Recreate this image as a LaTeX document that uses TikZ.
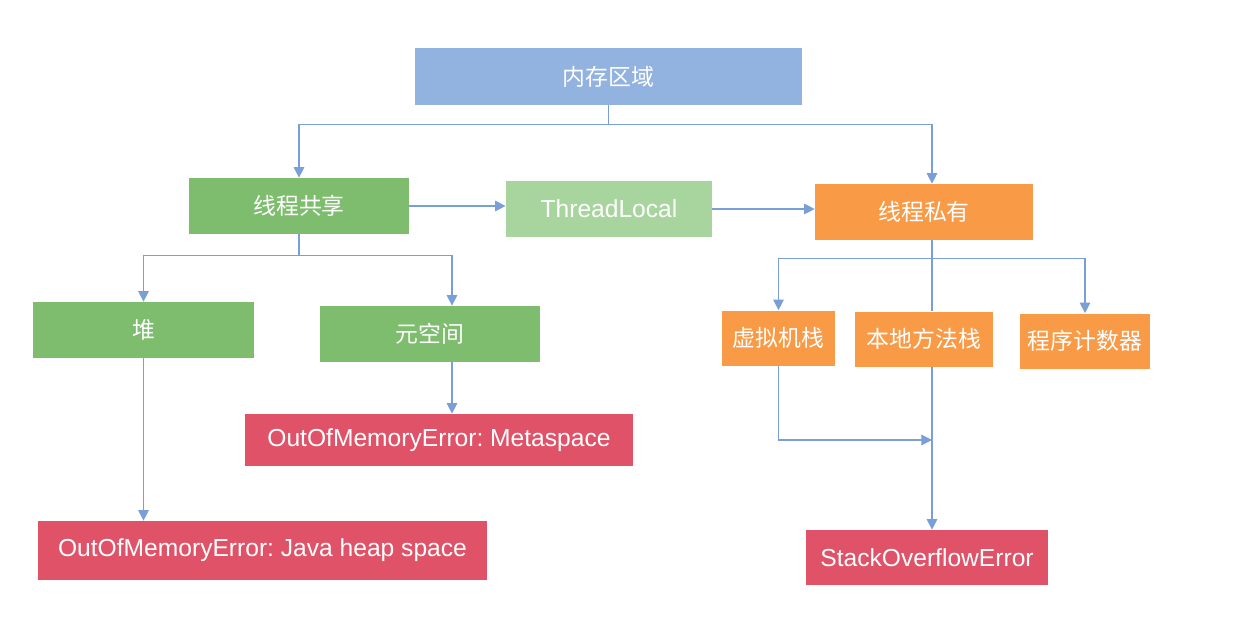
\documentclass[tikz,border=0pt]{standalone}
\usepackage{fontspec}
\setmainfont{Liberation Sans}
\newfontfamily\cjk{Noto Sans CJK SC}
\frenchspacing
\usetikzlibrary{arrows.meta,positioning}
\definecolor{memblue}{RGB}{146,178,224}
\definecolor{sharegreen}{RGB}{126,189,110}
\definecolor{tlgreen}{RGB}{168,212,158}
\definecolor{privorange}{RGB}{249,155,70}
\definecolor{errred}{RGB}{224,82,104}
\definecolor{linkblue}{RGB}{122,158,216}
\tikzstyle{box}=[rectangle,text=white,inner sep=0pt,font=\cjk\fontsize{13}{15}\selectfont]
\tikzstyle{memb}=[box,fill=memblue]
\tikzstyle{shareb}=[box,fill=sharegreen]
\tikzstyle{tlb}=[box,fill=tlgreen,font=\fontsize{14}{16}\selectfont]
\tikzstyle{privb}=[box,fill=privorange]
\tikzstyle{errb}=[box,fill=errred,font=\fontsize{14}{16}\selectfont]
\tikzstyle{arr}=[-{Triangle[length=6pt,width=6pt]},draw=linkblue,line width=0.7pt]

\begin{document}
\begin{tikzpicture}
\useasboundingbox[fill=white] (0,0) rectangle (24.72,-12.44);
\node[memb,minimum width=7.74cm,minimum height=1.14cm] (mem) at (12.17,-1.53) {内存区域};
\node[shareb,minimum width=4.40cm,minimum height=1.12cm] (shared) at (5.98,-4.12) {线程共享};
\node[tlb,minimum width=4.12cm,minimum height=1.12cm] (tl) at (12.18,-4.18) {ThreadLocal};
\node[privb,minimum width=4.36cm,minimum height=1.12cm] (priv) at (18.48,-4.24) {线程私有};
\node[shareb,minimum width=4.42cm,minimum height=1.12cm] (heap) at (2.87,-6.60) {堆};
\node[shareb,minimum width=4.40cm,minimum height=1.12cm] (meta) at (8.60,-6.68) {元空间};
\node[privb,minimum width=2.26cm,minimum height=1.10cm] (jvm) at (15.57,-6.76) {虚拟机栈};
\node[privb,minimum width=2.76cm,minimum height=1.10cm] (native) at (18.48,-6.78) {本地方法栈};
\node[privb,minimum width=2.60cm,minimum height=1.10cm] (pc) at (21.70,-6.82) {程序计数器};
\node[errb,minimum width=7.76cm,minimum height=1.04cm] (oommeta) at (8.78,-8.80) {OutOfMemoryError: Metaspace};
\node[errb,minimum width=8.98cm,minimum height=1.18cm] (oomheap) at (5.25,-11.01) {OutOfMemoryError: Java heap space};
\node[errb,minimum width=4.84cm,minimum height=1.10cm] (soe) at (18.54,-11.15) {StackOverflowError};
\coordinate (join) at ([xshift=0.16cm]native.south |- 0,-8.80);
% top level
\draw[arr] (mem.south) -- ++(0,-0.38) -| (shared.north);
\draw[arr] (mem.south) -- ++(0,-0.38) -| ([xshift=0.16cm]priv.north);
\draw[arr] (shared.east) -- (shared.east -| tl.west);
\draw[arr] (tl.east) -- (tl.east -| priv.west);
% shared areas
\draw[arr] (shared.south) -- ++(0,-0.42) -| (heap.north);
\draw[arr] (shared.south) -- ++(0,-0.42) -| ([xshift=0.44cm]meta.north);
\draw[arr] (heap.south) -- (heap.south |- oomheap.north);
\draw[arr] ([xshift=0.44cm]meta.south) -- ([xshift=0.44cm]meta.south |- oommeta.north);
% private areas
\draw[arr] ([xshift=0.16cm]priv.south) -- ++(0,-0.36) -| (jvm.north);
\draw[arr] ([xshift=0.16cm]priv.south) -- ++(0,-0.36) -| (pc.north);
\draw[draw=linkblue,line width=0.7pt] ([xshift=0.16cm]priv.south) -- ([xshift=0.16cm]native.north);
\draw[arr] ([xshift=0.16cm]native.south) -- ([xshift=0.16cm]native.south |- soe.north);
\draw[arr] (jvm.south) |- (join);
\end{tikzpicture}
\end{document}
